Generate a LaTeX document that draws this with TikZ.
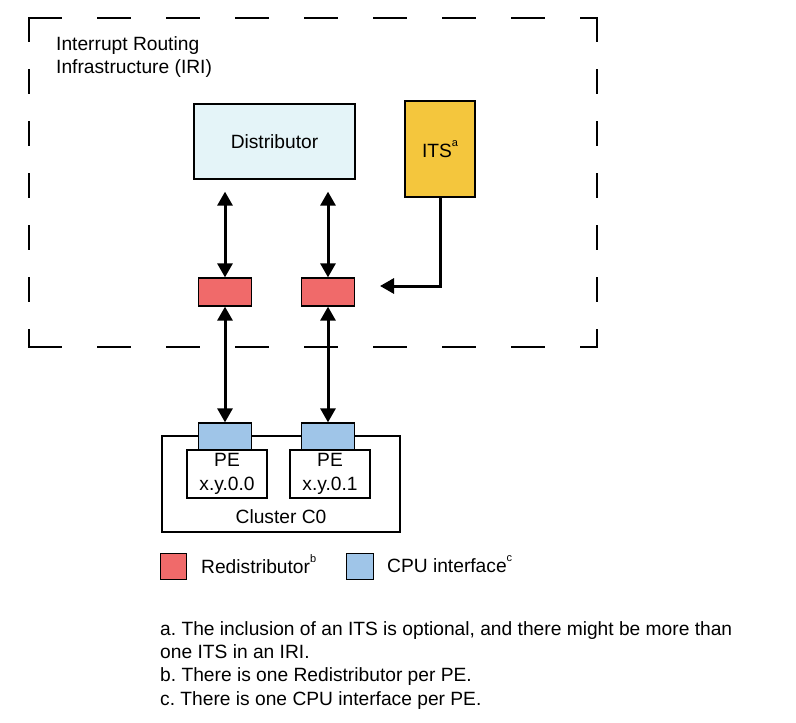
\documentclass[tikz,border=0pt]{standalone}
\usepackage{fontspec}
\setmainfont{Liberation Sans}
\usetikzlibrary{arrows.meta}
\definecolor{distblue}{HTML}{E4F4F8}
\definecolor{itsyellow}{HTML}{F4C63D}
\definecolor{redistred}{HTML}{F06A6A}
\definecolor{cpublue}{HTML}{9FC5E8}
\newcommand{\notemark}[1]{\raisebox{0.55em}{\fontsize{11}{11}\selectfont #1}}
\begin{document}
\frenchspacing
\begin{tikzpicture}[x = 1pt, y = -1pt, font = \fontsize{19.2}{23.3}\selectfont,
		box/.style = {draw, line width = 1.3pt, inner sep = 0pt},
		redist/.style = {box, fill = redistred, minimum width = 53pt, minimum height = 28pt},
		cpuif/.style = {box, fill = cpublue, minimum width = 53pt, minimum height = 27pt},
		pebox/.style = {box, fill = white, minimum width = 80pt, minimum height = 48pt, align = center},
		frame/.style = {line width = 2.6pt, line cap = rect},
		tip/.tip = {Triangle[length = 14pt, width = 15pt]},
		link/.style = {line width = 3pt, -tip},
		bilink/.style = {line width = 3pt, tip-tip}]
		\fill[white] (0, 0) rectangle (796, 723);
		\useasboundingbox (0, 0) rectangle (796, 723);
		% dashed IRI frame
		\draw[frame, dash pattern = on 32 off 37] (29, 18) -- (597, 18) (29, 347) -- (597, 347);
		\draw[frame, dash pattern = on 23 off 29] (29, 18) -- (29, 347) (597, 18) -- (597, 347);
		\node[anchor = north west, inner sep = 0pt, align = left] (iri) at (56, 36) {Interrupt Routing\\Infrastructure (IRI)};
		\node[box, fill = distblue, minimum width = 161pt, minimum height = 75pt] (dist) at (274.5, 141.5) {Distributor};
		\node[box, fill = itsyellow, minimum width = 70pt, minimum height = 96pt] (its) at (440, 149) {ITS\notemark{a}};
		% cluster and PEs
		\node[box, minimum width = 238pt, minimum height = 96pt] (cluster) at (281, 484) {};
		\node (clusterlbl) at (281, 517) {Cluster C0};
		\foreach \i/\x in {0/225, 1/328}{
			\node[redist] (r\i) at (\x, 292) {};
			\node[pebox] (pe\i) at (\x + 2, 474) {PE\\x.y.0.\i};
			\node[cpuif] (c\i) at (\x, 436.5) {};
			\draw[bilink, shorten < = 12pt] (dist.south -| r\i) -- (r\i.north);
			\draw[bilink] (r\i.south) -- (c\i.north);
		}
		\coordinate (itsin) at (380, 286);
		\draw[link] (its.south) |- (itsin);
		% legend
		\node[box, fill = redistred, minimum size = 26.5pt] (legred) at (173.5, 566.5) {};
		\node[anchor = west, inner sep = 0pt] (legredtxt) at (201, 564) {Redistributor\notemark{b}};
		\node[box, fill = cpublue, minimum size = 26.5pt] (legblue) at (360, 566.5) {};
		\node[anchor = west, inner sep = 0pt] (legbluetxt) at (387, 564) {CPU interface\notemark{c}};
		% footnotes
		\node[anchor = north west, inner sep = 0pt, align = left] (notes) at (160, 621) {a. The inclusion of an ITS is optional, and there might be more than\\one ITS in an IRI.\\b. There is one Redistributor per PE.\\c. There is one CPU interface per PE.};
	\end{tikzpicture}
\end{document}
